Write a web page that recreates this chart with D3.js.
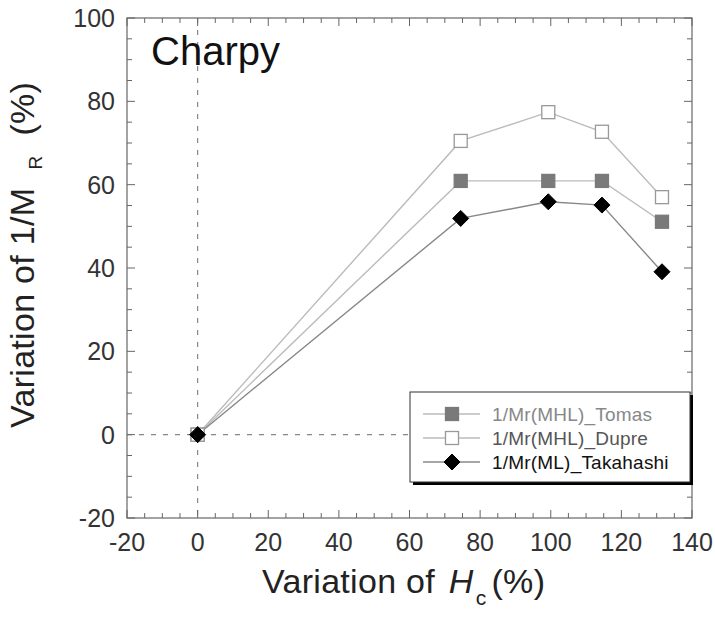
<!DOCTYPE html>
<html>
<head>
<meta charset="utf-8">
<script src="https://cdn.jsdelivr.net/npm/d3@7"></script>
<style>
  html, body { margin: 0; padding: 0; background: #fff; }
  svg { display: block; font-family: "Liberation Sans", Arial, sans-serif; }
</style>
</head>
<body>
<div id="chart"></div>
<script>
/* Charpy: variation of 1/MR vs variation of Hc */

const xValues = [0, 74.5, 99.3, 114.5, 131.5];
const tomas = [0, 60.9, 60.9, 60.9, 51.1];
const dupre = [0, 70.5, 77.4, 72.7, 57.0];
const takahashi = [0, 51.9, 55.9, 55.1, 39.1];
const seriesNames = ['1/Mr(MHL)_Tomas', '1/Mr(MHL)_Dupre', '1/Mr(ML)_Takahashi'];
const xTicks = [-20, 0, 20, 40, 60, 80, 100, 120, 140];
const yTicks = [-20, 0, 20, 40, 60, 80, 100];

const W = 715, H = 621;
const margin = {top: 18, right: 23, bottom: 103, left: 127};

const svg = d3.select('#chart').append('svg').attr('width', W).attr('height', H);

const x = d3.scaleLinear().domain([-20, 140]).range([margin.left, W - margin.right]);
const y = d3.scaleLinear().domain([-20, 100]).range([H - margin.bottom, margin.top]);

const frameColor = '#666';

// Reference dashed lines at zero
svg.append('line').attr('x1', x(0)).attr('x2', x(0)).attr('y1', y(100)).attr('y2', y(-20))
    .attr('stroke', '#888').attr('stroke-width', 1.2).attr('stroke-dasharray', '5,7');
svg.append('line').attr('x1', x(-20)).attr('x2', x(140)).attr('y1', y(0)).attr('y2', y(0))
    .attr('stroke', '#888').attr('stroke-width', 1.2).attr('stroke-dasharray', '5,7');

// Frame
svg.append('rect').attr('x', x(-20)).attr('y', y(100))
    .attr('width', x(140) - x(-20)).attr('height', y(-20) - y(100))
    .attr('fill', 'none').attr('stroke', frameColor).attr('stroke-width', 1.2);

// Inward ticks on all four sides (major every 20, minor every 5)
const ticksG = svg.append('g').attr('stroke', frameColor).attr('stroke-width', 1);
d3.range(-20, 140.1, 5).forEach(v => {
    const len = v % 20 === 0 ? 8 : 5;
    ticksG.append('line').attr('x1', x(v)).attr('x2', x(v)).attr('y1', y(-20)).attr('y2', y(-20) - len);
    ticksG.append('line').attr('x1', x(v)).attr('x2', x(v)).attr('y1', y(100)).attr('y2', y(100) + len);
});
d3.range(-20, 100.1, 5).forEach(v => {
    const len = v % 20 === 0 ? 8 : 5;
    ticksG.append('line').attr('x1', x(-20)).attr('x2', x(-20) + len).attr('y1', y(v)).attr('y2', y(v));
    ticksG.append('line').attr('x1', x(140)).attr('x2', x(140) - len).attr('y1', y(v)).attr('y2', y(v));
});

// Tick labels
xTicks.forEach(v => {
    svg.append('text').attr('x', x(v)).attr('y', y(-20) + 33)
        .attr('text-anchor', 'middle').attr('font-size', 25).attr('fill', '#333').text(v);
});
yTicks.forEach(v => {
    svg.append('text').attr('x', x(-20) - 12).attr('y', y(v) + 9)
        .attr('text-anchor', 'end').attr('font-size', 25).attr('fill', '#333').text(v);
});

// Axis titles
const xt = svg.append('text').attr('x', 262).attr('y', 593).attr('font-size', 34)
    .attr('letter-spacing', 0.3).attr('fill', '#222');
xt.append('tspan').text('Variation of ');
xt.append('tspan').attr('font-style', 'italic').attr('dx', 4).text('H');
xt.append('tspan').attr('font-size', 21).attr('dy', 12).attr('dx', 2).text('c');
xt.append('tspan').attr('dy', -12).attr('dx', 5).text('(%)');

const yt = svg.append('text').attr('transform', 'translate(34,428) rotate(-90)')
    .attr('font-size', 34).attr('letter-spacing', 0.3).attr('fill', '#222');
yt.append('tspan').text('Variation of 1/M');
yt.append('tspan').attr('font-size', 19).attr('dy', 8).attr('dx', 18).text('R');
yt.append('tspan').attr('dy', -8).attr('dx', 20).text('(%)');

// Panel label
svg.append('text').attr('x', 151).attr('y', 65).attr('font-size', 40).attr('fill', '#111').text('Charpy');

// Series
const series = [
    {name: seriesNames[0], values: tomas, line: '#bbb', shape: 'square', fill: '#7a7a7a', stroke: '#7a7a7a', text: '#888'},
    {name: seriesNames[1], values: dupre, line: '#bbb', shape: 'square', fill: '#fff', stroke: '#999', text: '#555'},
    {name: seriesNames[2], values: takahashi, line: '#888', shape: 'diamond', fill: '#000', stroke: '#000', text: '#111'}
];

const line = d3.line().x(d => x(d[0])).y(d => y(d[1]));

function drawMarker(g, cx, cy, s) {
    if (s.shape === 'square') {
        g.append('rect').attr('x', cx - 6.5).attr('y', cy - 6.5).attr('width', 13).attr('height', 13)
            .attr('fill', s.fill).attr('stroke', s.stroke).attr('stroke-width', 1.3);
    } else {
        g.append('path').attr('d', `M${cx},${cy - 8}L${cx + 8},${cy}L${cx},${cy + 8}L${cx - 8},${cy}Z`)
            .attr('fill', s.fill).attr('stroke', s.stroke).attr('stroke-width', 1);
    }
}

series.forEach(s => {
    const pts = xValues.map((v, i) => [v, s.values[i]]);
    svg.append('path').attr('d', line(pts)).attr('fill', 'none')
        .attr('stroke', s.line).attr('stroke-width', 1.4);
});
series.forEach(s => {
    const g = svg.append('g');
    xValues.forEach((v, i) => drawMarker(g, x(v), y(s.values[i]), s));
});

// Legend with drop shadow
const lg = svg.append('g');
lg.append('rect').attr('x', 413).attr('y', 395).attr('width', 280).attr('height', 90).attr('fill', '#000');
lg.append('rect').attr('x', 410).attr('y', 392).attr('width', 280).attr('height', 90)
    .attr('fill', '#fff').attr('stroke', '#333').attr('stroke-width', 1);
series.forEach((s, i) => {
    const cy = 414 + i * 24;
    lg.append('line').attr('x1', 423).attr('x2', 480).attr('y1', cy).attr('y2', cy)
        .attr('stroke', s.line).attr('stroke-width', 1.4);
    drawMarker(lg, 452, cy, s);
    lg.append('text').attr('x', 492).attr('y', cy + 6.5).attr('font-size', 19)
        .attr('letter-spacing', 0.2).attr('fill', s.text).text(s.name);
});
</script>
</body>
</html>
